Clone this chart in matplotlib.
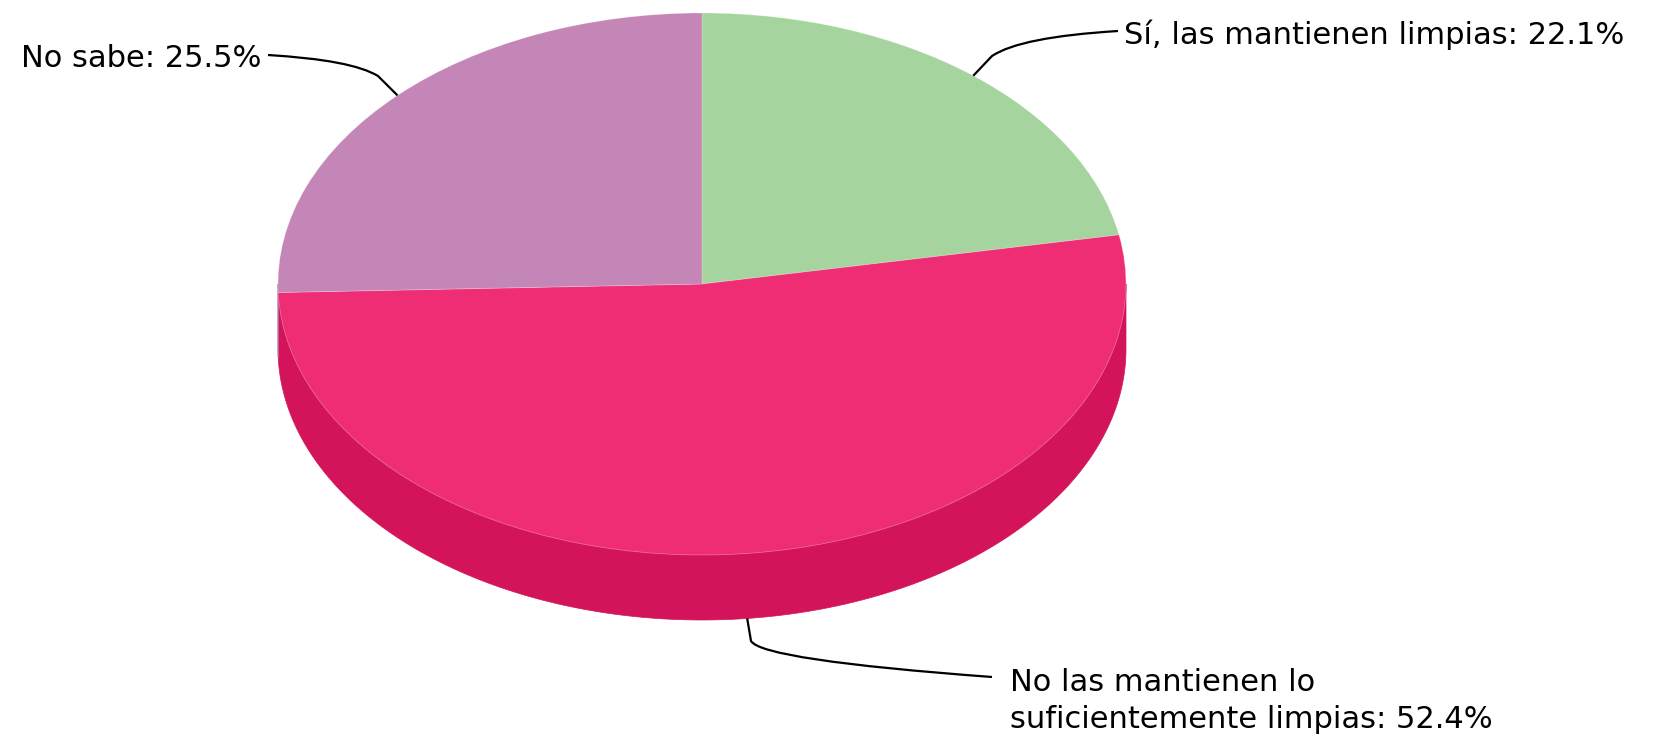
import numpy as np
import matplotlib
matplotlib.use("Agg")
import matplotlib.pyplot as plt
from matplotlib.patches import Wedge, Polygon, PathPatch
from matplotlib.path import Path
from matplotlib.transforms import Affine2D

labels = ["Sí, las mantienen limpias: 22.1%",
          "No las mantienen lo\nsuficientemente limpias: 52.4%",
          "No sabe: 25.5%"]
values = [22.1, 52.4, 25.5]
colors = ["#A6D49F", "#EE2D74", "#C485B7"]
side_colors = ["#8DBF86", "#D4145A", "#A96C9E"]

# pie geometry in pixels
cx, cy = 702, 284
rx, ry = 424, 271
depth = 65

fig = plt.figure(figsize=(16.58, 7.36), dpi=100)
ax = fig.add_axes([0, 0, 1, 1])
ax.set_xlim(0, 1658)
ax.set_ylim(736, 0)
ax.axis("off")

unit = Affine2D().scale(rx, -ry).translate(cx, cy) + ax.transData

# slice angles, clockwise from top
angles = []
start = 90.0
for v in values:
    sweep = v / sum(values) * 360
    angles.append((start - sweep, start))
    start -= sweep

# visible side (front half, 180..360 deg)
for (a1, a2), sc in zip(angles, side_colors):
    for off in (0, 360, -360):
        b1, b2 = max(a1 + off, 180), min(a2 + off, 360)
        if b2 > b1:
            t = np.radians(np.linspace(b1, b2, 200))
            xs = cx + rx * np.cos(t)
            ys = cy - ry * np.sin(t)
            pts = np.vstack([np.column_stack([xs, ys]),
                             np.column_stack([xs[::-1], ys[::-1] + depth])])
            ax.add_patch(Polygon(pts, closed=True, facecolor=sc,
                                 edgecolor=sc, lw=0.5))

# top face
for (a1, a2), c in zip(angles, colors):
    ax.add_patch(Wedge((0, 0), 1, a1, a2, facecolor=c, edgecolor=(1, 1, 1, 0.25),
                       lw=0.6, transform=unit))

# leader lines: elbow, control, end (start is the slice middle on the pie edge)
mids = [np.radians((a1 + a2) / 2) for a1, a2 in angles]
line_pts = [
    [(992, 56), (1020, 37), (1118, 31)],
    [(751, 641), (762, 660), (992, 677)],
    [(378, 76), (352, 60), (268, 55)],
]
for i, m in enumerate(mids):
    sx = cx + rx * np.cos(m)
    sy = cy - ry * np.sin(m) + (depth if np.sin(m) < 0 else 0)
    e, c, end = line_pts[i]
    path = Path([(sx, sy), e, c, end],
                [Path.MOVETO, Path.LINETO, Path.CURVE3, Path.CURVE3])
    ax.add_patch(PathPatch(path, facecolor="none", edgecolor="black", lw=1.6))

font = dict(family=["DejaVu Sans"], fontsize=22, color="black")
ax.text(1124, 44, labels[0], ha="left", va="baseline", **font)
ax.text(1010, 691, "No las mantienen lo", ha="left", va="baseline", **font)
ax.text(1010, 728, "suficientemente limpias: 52.4%", ha="left", va="baseline", **font)
ax.text(21, 67, labels[2], ha="left", va="baseline", **font)

fig.savefig("out.png", dpi=100)
